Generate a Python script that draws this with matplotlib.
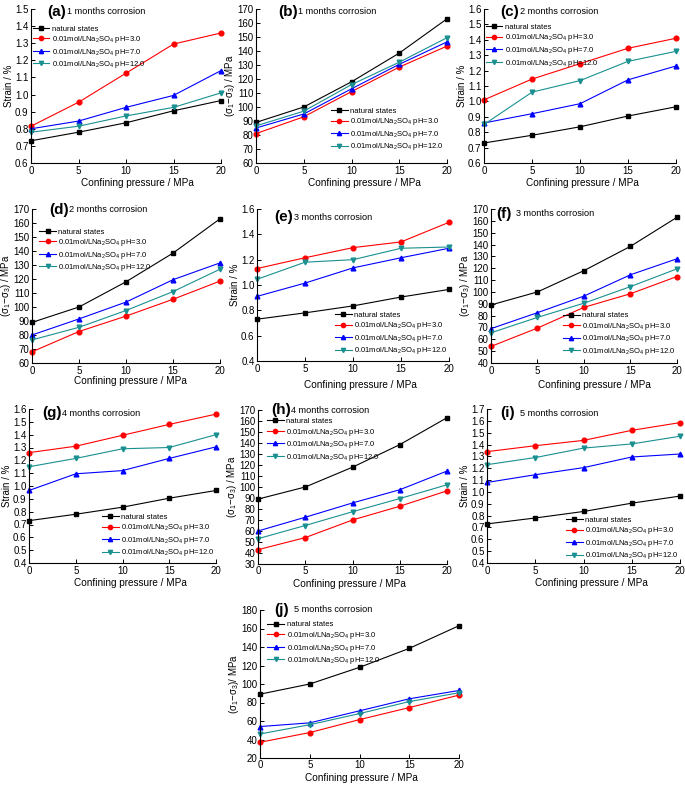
import matplotlib
matplotlib.use("Agg")
import matplotlib.pyplot as plt
from matplotlib.ticker import FormatStrFormatter, MultipleLocator

plt.rcParams['font.family'] = ['Liberation Sans', 'DejaVu Sans']
plt.rcParams['mathtext.fontset'] = 'custom'
plt.rcParams['mathtext.rm'] = 'Liberation Sans'
plt.rcParams['mathtext.it'] = 'Liberation Sans:italic'
plt.rcParams['mathtext.bf'] = 'Liberation Sans:bold'

# ---------------- data ----------------
pressure = [0, 5, 10, 15, 20]
series_names = ["natural states",
                "0.01mol/LNa$_2$SO$_4$ pH=3.0",
                "0.01mol/LNa$_2$SO$_4$ pH=7.0",
                "0.01mol/LNa$_2$SO$_4$ pH=12.0"]

natural_strain = [0.73, 0.78, 0.835, 0.905, 0.965]
natural_stress = [89, 100, 118, 138.5, 163]

# (a) 1 month strain
a_ph3 = [0.815, 0.955, 1.125, 1.295, 1.36]
a_ph7 = [0.80, 0.845, 0.925, 0.995, 1.14]
a_ph12 = [0.78, 0.815, 0.875, 0.925, 1.01]
# (b) 1 month stress
b_ph3 = [81, 93, 111, 128.5, 143.5]
b_ph7 = [85, 95, 113, 130.5, 146.5]
b_ph12 = [86.5, 97, 116, 132, 149.5]
# (c) 2 months strain
c_ph3 = [1.01, 1.145, 1.245, 1.345, 1.41]
c_ph7 = [0.86, 0.92, 0.985, 1.14, 1.23]
c_ph12 = [0.85, 1.06, 1.135, 1.26, 1.325]
# (d) 2 months stress
d_ph3 = [68, 82.5, 93.5, 105.5, 118.5]
d_ph7 = [80, 91.5, 103.5, 119.5, 131.5]
d_ph12 = [76.5, 85.5, 97.5, 111, 127]
# (e) 3 months strain
e_ph3 = [1.13, 1.215, 1.295, 1.34, 1.495]
e_ph7 = [0.91, 1.015, 1.135, 1.215, 1.29]
e_ph12 = [1.045, 1.18, 1.20, 1.29, 1.30]
# (f) 3 months stress
f_ph3 = [54, 69.5, 87, 98.5, 113]
f_ph7 = [69, 82.5, 96.5, 114.5, 128]
f_ph12 = [65.5, 78.5, 90.5, 104.5, 119.5]
# (g) 4 months strain
g_ph3 = [1.26, 1.31, 1.395, 1.48, 1.56]
g_ph7 = [0.965, 1.095, 1.12, 1.215, 1.305]
g_ph12 = [1.15, 1.215, 1.29, 1.30, 1.40]
# (h) 4 months stress
h_ph3 = [43, 54, 70, 82.5, 96.5]
h_ph7 = [60, 72.5, 85.5, 97.5, 114.5]
h_ph12 = [53, 65, 77.5, 89.5, 102]
# (i) 5 months strain
i_ph3 = [1.34, 1.39, 1.435, 1.52, 1.585]
i_ph7 = [1.08, 1.145, 1.205, 1.295, 1.32]
i_ph12 = [1.23, 1.29, 1.37, 1.405, 1.47]
# (j) 5 months stress
j_ph3 = [37, 47.5, 61.5, 74.5, 88]
j_ph7 = [54, 58, 71, 84, 93]
j_ph12 = [46, 56, 68, 81, 90.5]

panel_letters = ["(a)", "(b)", "(c)", "(d)", "(e)", "(f)", "(g)", "(h)", "(i)", "(j)"]
panel_titles = ["1 months corrosion", "1 months corrosion", "2 months corrosion",
                "2 months corrosion", "3 months corrosion", "3 months corrosion",
                "4 months corrosion", "4 months corrosion", "5 months corrosion",
                "5 months corrosion"]
panel_kind = ["strain", "stress", "strain", "stress", "strain", "stress",
              "strain", "stress", "strain", "stress"]
panel_series = [
    (natural_strain, a_ph3, a_ph7, a_ph12),
    (natural_stress, b_ph3, b_ph7, b_ph12),
    (natural_strain, c_ph3, c_ph7, c_ph12),
    (natural_stress, d_ph3, d_ph7, d_ph12),
    (natural_strain, e_ph3, e_ph7, e_ph12),
    (natural_stress, f_ph3, f_ph7, f_ph12),
    (natural_strain, g_ph3, g_ph7, g_ph12),
    (natural_stress, h_ph3, h_ph7, h_ph12),
    (natural_strain, i_ph3, i_ph7, i_ph12),
    (natural_stress, j_ph3, j_ph7, j_ph12),
]
panel_ylim = [(0.6, 1.5), (60, 170), (0.6, 1.6), (60, 170), (0.4, 1.6),
              (40, 170), (0.4, 1.6), (30, 170), (0.4, 1.7), (20, 180)]
panel_ystep = [0.1, 10, 0.1, 10, 0.2, 10, 0.1, 10, 0.1, 20]

# ---------------- layout / style ----------------
W, H = 685, 786
# axes rects in pixels: left, top, right, bottom
rects = [(31, 9, 221, 163), (256, 9, 447, 163), (484, 9, 676, 163),
         (32, 209, 220, 363), (257, 209, 449, 361), (491, 209, 677, 363),
         (29, 409, 216, 563), (258, 410, 447, 564), (487, 409, 680, 563),
         (260, 610, 459, 758)]
# title offsets (px from axes left, px from axes top) for letter
title_off = [(16, 3), (22, 3), (16, 3), (17, 1), (17, 8), (5, 5), (13, 4), (13, 0), (13, 4), (14, 0)]
# x-label centre offset (px) relative to axes centre, and distance below axis (px)
xlab_off = [(11, 20), (13, 20), (2, 20), (4, 18), (7, 24), (10, 22), (8, 20), (-3, 20), (8, 20), (2, 20)]
# legend: (loc, anchor x, anchor y) in axes fraction
leg_pos = [("upper left", 0.0, 0.905), ("lower right", 0.99, 0.06),
           ("upper left", 0.0, 0.915), ("upper left", 0.03, 0.885),
           ("lower right", 1.0, 0.02), ("lower right", 1.0, 0.03),
           ("lower right", 1.0, 0.02), ("upper left", 0.04, 0.96),
           ("lower right", 1.0, 0.0), ("upper left", 0.03, 0.935)]

colors = ["#000000", "#FF0000", "#0000FF", "#1A9090"]
markers = ["s", "o", "^", "v"]

fig = plt.figure(figsize=(W / 100, H / 100), dpi=100)

for k in range(10):
    l, t, r, b = rects[k]
    ax = fig.add_axes([l / W, 1 - b / H, (r - l) / W, (b - t) / H])
    for s, ser in enumerate(panel_series[k]):
        ax.plot(pressure, ser, color=colors[s], marker=markers[s], markersize=3.4,
                linewidth=0.8, label=series_names[s], clip_on=False)
    ax.set_xlim(0, 20)
    ax.set_ylim(*panel_ylim[k])
    ax.xaxis.set_major_locator(MultipleLocator(5))
    ax.yaxis.set_major_locator(MultipleLocator(panel_ystep[k]))
    if panel_kind[k] == "strain":
        ax.yaxis.set_major_formatter(FormatStrFormatter('%.1f'))
        ax.set_ylabel("Strain / %", fontsize=7, labelpad=0.8)
    else:
        ax.yaxis.set_major_formatter(FormatStrFormatter('%d'))
        if k == 9:
            ax.set_ylabel("(σ$_1$−σ$_3$)/ MPa", fontsize=7, labelpad=0.3)
        else:
            ax.set_ylabel("(σ$_1$−σ$_3$) / MPa", fontsize=7, labelpad=0.3)
    ax.set_xlabel("Confining pressure / MPa", fontsize=7.2)
    dx, dy = xlab_off[k]
    ax.xaxis.set_label_coords(0.5 + dx / (r - l), -dy / (b - t))
    ax.xaxis.label.set_va("center")
    for side in ("top", "right"):
        ax.spines[side].set_visible(False)
    for side in ("left", "bottom"):
        ax.spines[side].set_linewidth(0.8)
    ax.tick_params(direction="in", length=3, width=0.7, labelsize=7, pad=1.8)
    # title
    tx, ty = title_off[k]
    fx = (l + tx) / W
    fy = 1 - (t + ty) / H
    fig.text(fx, fy, panel_letters[k], fontsize=11, fontweight="bold",
             va="center", ha="left")
    fig.text(fx + 20 / W, fy, panel_titles[k], fontsize=6.6, va="center", ha="left")
    loc, bx, by = leg_pos[k]
    ax.legend(loc=loc, bbox_to_anchor=(bx, by), frameon=False, fontsize=5.5,
              handlelength=2.2, handletextpad=0.3, labelspacing=0.2,
              borderaxespad=0.0, borderpad=0.2, markerscale=0.9)

fig.savefig("out.png", dpi=100)
